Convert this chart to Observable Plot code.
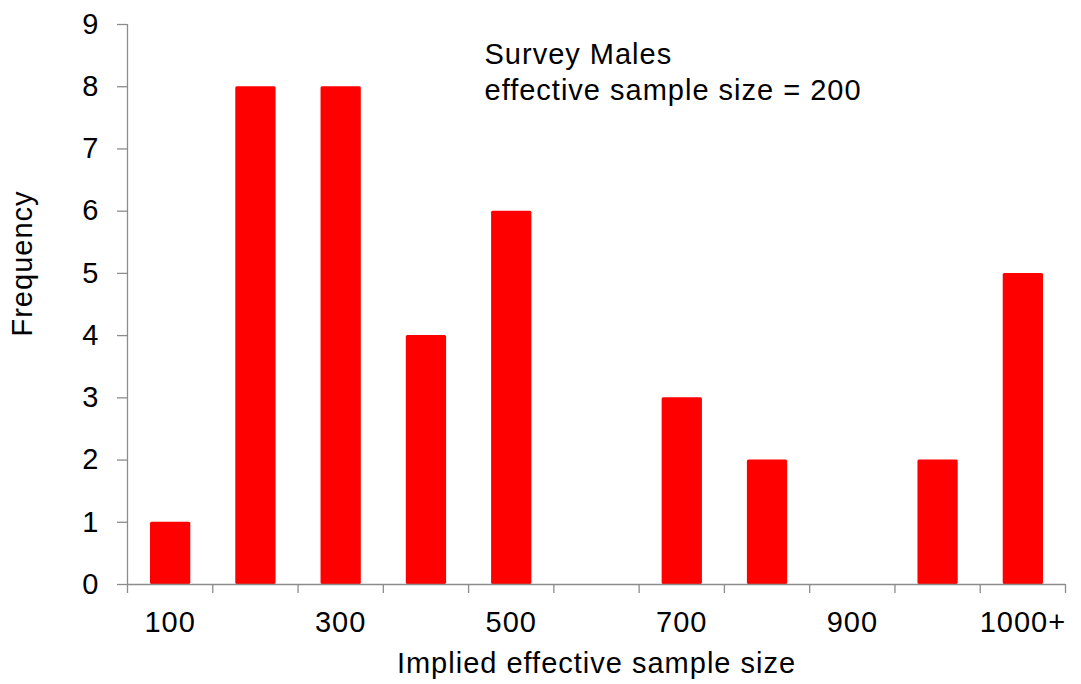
<!DOCTYPE html>
<html>
<head>
<meta charset="utf-8">
<script src="https://cdn.jsdelivr.net/npm/d3@7"></script>
<script src="https://cdn.jsdelivr.net/npm/@observablehq/plot@0.6"></script>
<style>
  html, body { margin: 0; padding: 0; background: #ffffff; }
  #chart svg { display: block; }
</style>
</head>
<body>
<div id="chart"></div>
<script>
// Categories (implied effective sample size bins)
const categories = ["100", "200", "300", "400", "500", "600", "700", "800", "900", "1000", "1000+"];
// Frequency per bin
const frequency = [1, 8, 8, 4, 6, 0, 3, 2, 0, 2, 5];
// Tick labels shown on the x axis
const xTickLabels = ["100", "300", "500", "700", "900", "1000+"];
// Y axis ticks
const yTicks = [0, 1, 2, 3, 4, 5, 6, 7, 8, 9];
// Texts
const annotationLines = ["Survey Males", "effective sample size = 200"];
const xAxisLabel = "Implied effective sample size";
const yAxisLabel = "Frequency";

const data = categories.map((c, i) => ({category: c, index: i, frequency: frequency[i]}));

const axisColor = "#8c8c8c";
const font = "'Liberation Sans', Arial, sans-serif";
const fs = 29;

const chart = Plot.plot({
  width: 1081,
  height: 684,
  marginLeft: 127,
  marginRight: 16,
  marginTop: 24,
  marginBottom: 100,
  x: {domain: [0, categories.length]},
  y: {domain: [0, 9]},
  style: {fontFamily: font, fontSize: fs + "px", letterSpacing: "1px", color: "#000", background: "#fff", overflow: "visible"},
  marks: [
    Plot.rectY(data, {
      x1: "index",
      x2: d => d.index + 1,
      y: "frequency",
      fill: "#ff0000",
      insetLeft: 23,
      insetRight: 22,
      rx: 1.5
    }),
    Plot.ruleX([0], {stroke: axisColor, strokeWidth: 1.3}),
    Plot.ruleY([0], {stroke: axisColor, strokeWidth: 1.3}),
    Plot.axisY({
      ticks: yTicks,
      tickSize: 10,
      tickPadding: 18,
      stroke: axisColor,
      strokeWidth: 1.3,
      fontSize: fs,
      fill: "#000",
      label: null
    }),
    Plot.axisX({
      ticks: d3.range(0, categories.length + 1),
      tickSize: 9,
      stroke: axisColor,
      strokeWidth: 1.3,
      tickFormat: () => "",
      label: null
    }),
    Plot.axisX({
      ticks: xTickLabels.map(l => categories.indexOf(l) + 0.5),
      tickSize: 0,
      tickPadding: 27,
      tickFormat: v => categories[Math.floor(v)],
      fontSize: fs,
      fill: "#000",
      label: null
    }),
    Plot.text([xAxisLabel], {
      frameAnchor: "bottom",
      text: d => d,
      textAnchor: "middle",
      lineAnchor: "bottom",
      dy: 88,
      fontSize: fs,
      fill: "#000"
    }),
    Plot.text([yAxisLabel], {
      frameAnchor: "left",
      text: d => d,
      textAnchor: "middle",
      rotate: -90,
      lineAnchor: "middle",
      dx: -105,
      dy: -41,
      fontSize: fs,
      fill: "#000"
    }),
    Plot.text([annotationLines.join("\n")], {
      frameAnchor: "top-left",
      text: d => d,
      textAnchor: "start",
      lineAnchor: "bottom",
      lineHeight: 1.24,
      dx: 357,
      dy: 75,
      fontSize: fs,
      fill: "#000"
    })
  ]
});

document.getElementById("chart").appendChild(chart);
</script>
</body>
</html>
